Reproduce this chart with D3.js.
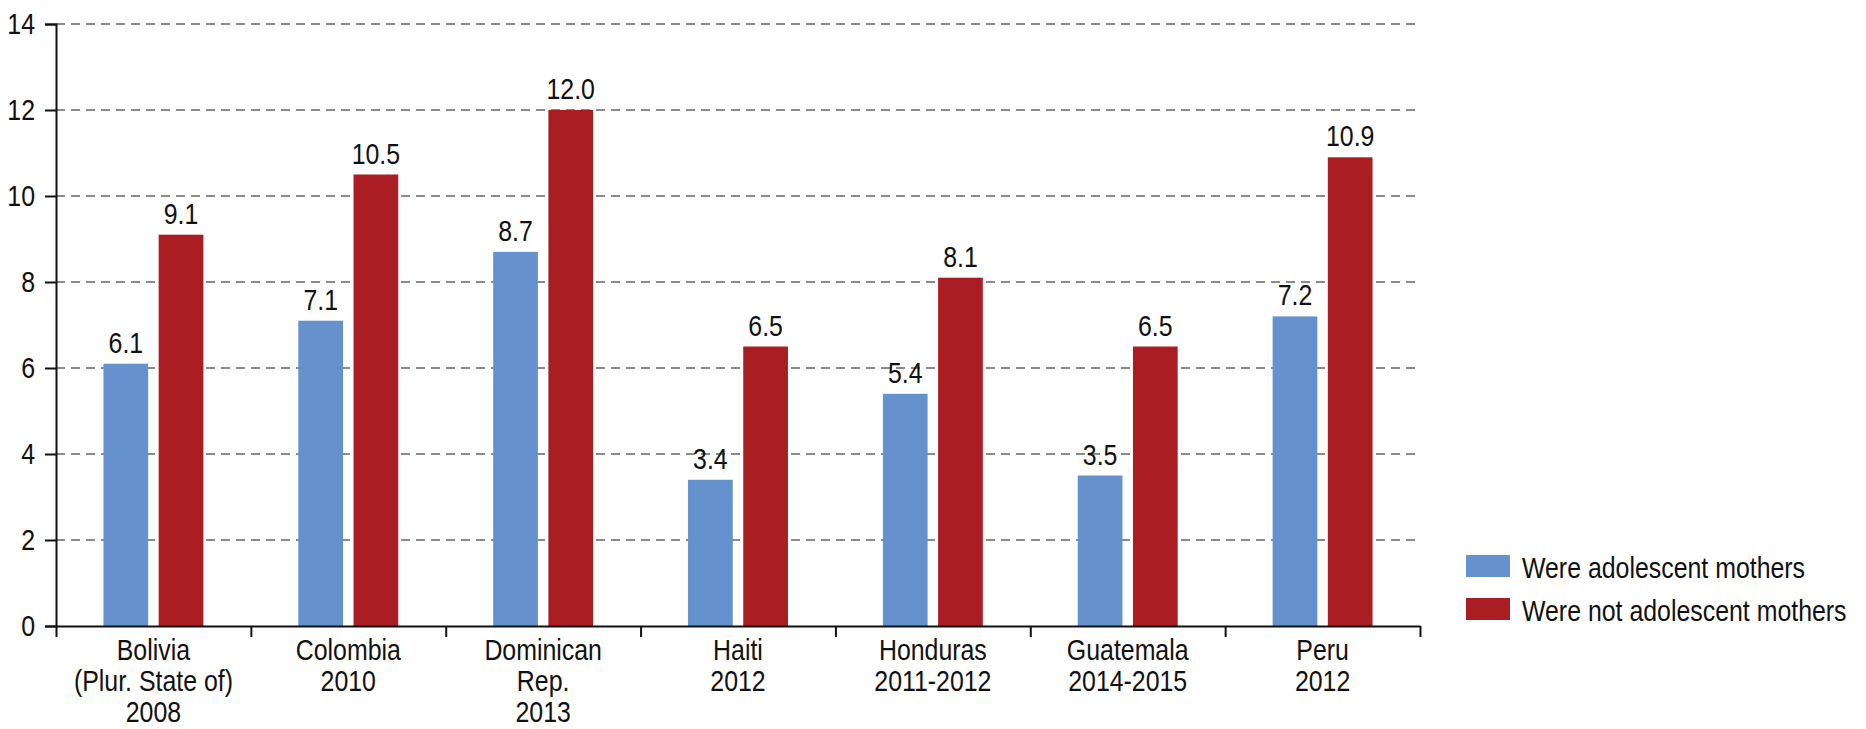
<!DOCTYPE html>
<html>
<head>
<meta charset="utf-8">
<script src="https://cdn.jsdelivr.net/npm/d3@7"></script>
<style>
  html, body { margin: 0; padding: 0; background: #fff; }
  svg text { font-family: "Liberation Sans", Arimo, Arial, sans-serif; fill: #111; }
</style>
</head>
<body>
<svg id="chart" width="1866" height="729"></svg>
<script>
const categories = [
  ["Bolivia", "(Plur. State of)", "2008"],
  ["Colombia", "2010"],
  ["Dominican", "Rep.", "2013"],
  ["Haiti", "2012"],
  ["Honduras", "2011-2012"],
  ["Guatemala", "2014-2015"],
  ["Peru", "2012"]
];
const seriesNames = ["Were adolescent mothers", "Were not adolescent mothers"];
const adolescent = [6.1, 7.1, 8.7, 3.4, 5.4, 3.5, 7.2];
const notAdolescent = [9.1, 10.5, 12.0, 6.5, 8.1, 6.5, 10.9];
const yTicks = [0, 2, 4, 6, 8, 10, 12, 14];
const colors = ["#6592cc", "#a91d23"];

const FS = 30, SX = 0.83;
const svg = d3.select("#chart");
const mLeft = 56, mRight = 1420, mTop = 24, mBottom = 626;
const catIds = categories.map((c, i) => i);

// condense text horizontally (simulating a condensed typeface)
function condense(sel) {
  sel.each(function() {
    const t = d3.select(this);
    const x = +t.attr("x") || 0, yy = +t.attr("y") || 0;
    t.attr("x", 0).attr("y", 0)
     .attr("transform", `translate(${x},${yy}) scale(${SX},1)`);
  });
}

const x0 = d3.scaleBand().domain(catIds).range([mLeft, mRight]).padding(0);
const x1 = d3.scaleBand().domain([0, 1]).range([0, x0.bandwidth()])
  .paddingInner(0.19).paddingOuter(0.86);
const y = d3.scaleLinear().domain([0, 14]).range([mBottom, mTop]);

// grid
svg.append("g").selectAll("line").data(yTicks.filter(t => t > 0)).join("line")
  .attr("x1", mLeft).attr("x2", mRight)
  .attr("y1", d => y(d)).attr("y2", d => y(d))
  .attr("stroke", "#666").attr("stroke-width", 1.5)
  .attr("stroke-dasharray", "9,6");

// bars
const data = catIds.map(i => [adolescent[i], notAdolescent[i]]);
const groups = svg.append("g").selectAll("g").data(data).join("g")
  .attr("transform", (d, i) => `translate(${x0(i)},0)`);
groups.selectAll("rect").data(d => d.map((v, s) => ({v, s}))).join("rect")
  .attr("x", d => x1(d.s)).attr("width", x1.bandwidth())
  .attr("y", d => y(d.v)).attr("height", d => y(0) - y(d.v))
  .attr("fill", d => colors[d.s]);
groups.selectAll("text").data(d => d.map((v, s) => ({v, s}))).join("text")
  .attr("x", d => x1(d.s) + x1.bandwidth() / 2)
  .attr("y", d => y(d.v) - 11)
  .attr("text-anchor", "middle")
  .attr("font-size", FS)
  .text(d => d.v.toFixed(1))
  .call(condense);

// y axis
const yAxis = svg.append("g").attr("transform", `translate(${mLeft},0)`)
  .call(d3.axisLeft(y).tickValues(yTicks).tickSize(11).tickPadding(10).tickFormat(d3.format("d")));
yAxis.select(".domain").attr("stroke", "#111").attr("stroke-width", 2);
yAxis.selectAll(".tick line").attr("stroke", "#111").attr("stroke-width", 2);
yAxis.selectAll(".tick text").attr("font-size", FS).attr("fill", "#111")
  .attr("dy", null).attr("y", 9)
  .style("font-family", '"Liberation Sans", Arimo, Arial, sans-serif')
  .call(condense);

// x axis
const boundaries = catIds.map(i => x0(i)).concat([mRight]);
const xEdge = d3.scaleLinear().domain([mLeft, mRight]).range([mLeft, mRight]);
const xAxis = svg.append("g").attr("transform", `translate(0,${mBottom})`)
  .call(d3.axisBottom(xEdge).tickValues(boundaries).tickSize(11).tickSizeOuter(0).tickFormat(""));
xAxis.select(".domain").attr("stroke", "#111").attr("stroke-width", 2);
xAxis.selectAll(".tick line").attr("stroke", "#111").attr("stroke-width", 2);

// category labels
const catLabels = svg.append("g").selectAll("text").data(categories).join("text")
  .attr("text-anchor", "middle")
  .attr("font-size", FS)
  .attr("transform", (d, i) => `translate(${x0(i) + x0.bandwidth() / 2},660) scale(${SX},1)`);
catLabels.selectAll("tspan").data(d => d).join("tspan")
  .attr("x", 0).attr("dy", (d, j) => j === 0 ? 0 : 31)
  .text(d => d);

// legend
const legend = svg.append("g").selectAll("g").data(seriesNames).join("g")
  .attr("transform", (d, i) => `translate(1466,${555 + i * 43})`);
legend.append("rect").attr("width", 44).attr("height", 22).attr("fill", (d, i) => colors[i]);
legend.append("text").attr("x", 56).attr("y", 23).attr("font-size", FS).text(d => d)
  .call(condense);
</script>
</body>
</html>
